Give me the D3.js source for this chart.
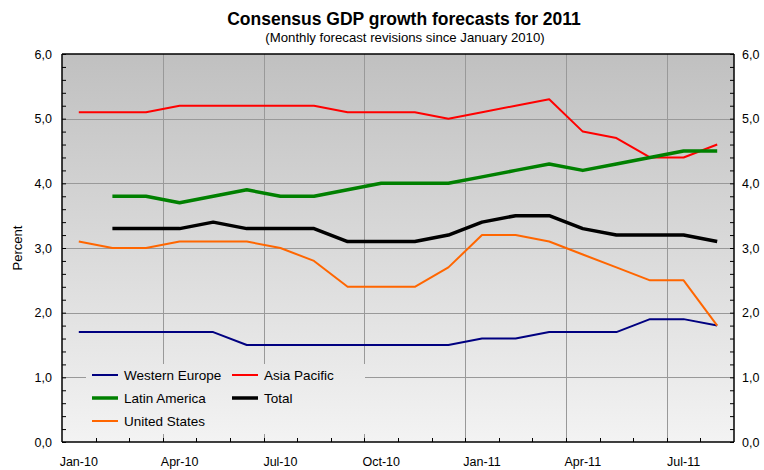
<!DOCTYPE html>
<html>
<head>
<meta charset="utf-8">
<script src="https://cdn.jsdelivr.net/npm/d3@7"></script>
<style>
  html, body { margin: 0; padding: 0; background: #ffffff; }
  svg { display: block; font-family: "Liberation Sans", Arial, sans-serif; }
</style>
</head>
<body>
<svg id="chart" width="764" height="470"></svg>
<script>
// Monthly survey dates (Jan-2010 .. Aug-2011)
const months = ["Jan-10","Feb-10","Mar-10","Apr-10","May-10","Jun-10","Jul-10","Aug-10","Sep-10","Oct-10",
                "Nov-10","Dec-10","Jan-11","Feb-11","Mar-11","Apr-11","May-11","Jun-11","Jul-11","Aug-11"];
const xTickLabels = ["Jan-10","Apr-10","Jul-10","Oct-10","Jan-11","Apr-11","Jul-11"];
const yTicks = [0,1,2,3,4,5,6];

// 2011 GDP growth consensus, percent
const westernEurope = [1.7,1.7,1.7,1.7,1.7,1.5,1.5,1.5,1.5,1.5,1.5,1.5,1.6,1.6,1.7,1.7,1.7,1.9,1.9,1.8];
const asiaPacific   = [5.1,5.1,5.1,5.2,5.2,5.2,5.2,5.2,5.1,5.1,5.1,5.0,5.1,5.2,5.3,4.8,4.7,4.4,4.4,4.6];
const latinAmerica  = [null,3.8,3.8,3.7,3.8,3.9,3.8,3.8,3.9,4.0,4.0,4.0,4.1,4.2,4.3,4.2,4.3,4.4,4.5,4.5];
const total         = [null,3.3,3.3,3.3,3.4,3.3,3.3,3.3,3.1,3.1,3.1,3.2,3.4,3.5,3.5,3.3,3.2,3.2,3.2,3.1];
const unitedStates  = [3.1,3.0,3.0,3.1,3.1,3.1,3.0,2.8,2.4,2.4,2.4,2.7,3.2,3.2,3.1,2.9,2.7,2.5,2.5,1.8];

const series = [
  { name: "Western Europe", values: westernEurope, color: "#000080", width: 2 },
  { name: "Asia Pacific",   values: asiaPacific,   color: "#ff0000", width: 2 },
  { name: "Latin America",  values: latinAmerica,  color: "#008000", width: 3.5 },
  { name: "Total",          values: total,         color: "#000000", width: 3.5 },
  { name: "United States",  values: unitedStates,  color: "#ff6600", width: 2 }
];

const svg = d3.select("#chart");
const pLeft = 62, pRight = 734, pTop = 54, pBottom = 442;

const x = d3.scaleBand().domain(months).range([pLeft, pRight]).padding(0);
const y = d3.scaleLinear().domain([0, 6]).range([pBottom, pTop]);
const bw = x.bandwidth();
const cx = m => x(m) + bw / 2;
const fmt = d => d3.format(".1f")(d).replace(".", ",");

// plot background gradient
const defs = svg.append("defs");
const grad = defs.append("linearGradient").attr("id", "bg")
  .attr("gradientUnits", "userSpaceOnUse")
  .attr("x1", 0).attr("y1", pTop).attr("x2", 0).attr("y2", pBottom);
grad.append("stop").attr("offset", "0%").attr("stop-color", "#c0c0c0");
grad.append("stop").attr("offset", "100%").attr("stop-color", "#f3f3f3");

svg.append("rect").attr("x", pLeft).attr("y", pTop)
  .attr("width", pRight - pLeft).attr("height", pBottom - pTop).attr("fill", "url(#bg)");

// gridlines
const grid = svg.append("g").attr("stroke", "#999999").attr("stroke-width", 1);
grid.selectAll("line.h").data(yTicks.slice(1, -1)).join("line").attr("class", "h")
  .attr("x1", pLeft).attr("x2", pRight)
  .attr("y1", d => Math.round(y(d)) + 0.5).attr("y2", d => Math.round(y(d)) + 0.5);
grid.selectAll("line.v").data(xTickLabels.slice(1)).join("line").attr("class", "v")
  .attr("x1", d => Math.round(x(d)) + 0.5).attr("x2", d => Math.round(x(d)) + 0.5)
  .attr("y1", pTop).attr("y2", pBottom);

// value axes: minor ticks every 0.2, pointing into the plot
const yLeft = d3.axisLeft(y).tickValues(d3.range(0, 6.01, 0.2)).tickSize(-4).tickFormat("");
const yRight = d3.axisRight(y).tickValues(d3.range(0, 6.01, 0.2)).tickSize(-4).tickFormat("");
function styleAxis(g) {
  g.select(".domain").remove();
  g.selectAll(".tick line").attr("stroke", "#000");
}
svg.append("g").attr("transform", `translate(${pLeft},0)`).call(yLeft).call(styleAxis);
svg.append("g").attr("transform", `translate(${pRight},0)`).call(yRight).call(styleAxis);

// month ticks on the category axis (band boundaries)
svg.append("g").selectAll("line").data(months.slice(1)).join("line")
  .attr("x1", d => Math.round(x(d)) + 0.5).attr("x2", d => Math.round(x(d)) + 0.5)
  .attr("y1", pBottom).attr("y2", pBottom - 4).attr("stroke", "#000");

// frame lines
const frame = svg.append("g").attr("stroke", "#000").attr("stroke-width", 1.5);
frame.append("line").attr("x1", pLeft).attr("x2", pRight).attr("y1", pTop).attr("y2", pTop);
frame.append("line").attr("x1", pLeft).attr("x2", pRight).attr("y1", pBottom).attr("y2", pBottom);
frame.append("line").attr("x1", pLeft).attr("x2", pLeft).attr("y1", pTop).attr("y2", pBottom);
frame.append("line").attr("x1", pRight).attr("x2", pRight).attr("y1", pTop).attr("y2", pBottom);

// tick labels
svg.append("g").selectAll("text").data(yTicks).join("text")
  .attr("x", 52).attr("y", d => y(d) + 4.5).attr("text-anchor", "end")
  .attr("font-size", 12.5).attr("fill", "#000").text(fmt);
svg.append("g").selectAll("text").data(yTicks).join("text")
  .attr("x", 742).attr("y", d => y(d) + 4.5).attr("text-anchor", "start")
  .attr("font-size", 12.5).attr("fill", "#000").text(fmt);
svg.append("g").selectAll("text").data(xTickLabels).join("text")
  .attr("x", d => cx(d)).attr("y", 466).attr("text-anchor", "middle")
  .attr("font-size", 12.5).attr("fill", "#000").text(d => d);

// series lines
const line = d3.line()
  .defined(d => d.v != null)
  .x(d => cx(d.m))
  .y(d => y(d.v));
svg.append("g").selectAll("path").data(series).join("path")
  .attr("d", s => line(s.values.map((v, i) => ({ m: months[i], v }))))
  .attr("fill", "none").attr("stroke", s => s.color).attr("stroke-width", s => s.width)
  .attr("stroke-linejoin", "round");

// legend box (opaque, same fill as the plot background)
const lgX = 86, lgY = 364, lgW = 279, lgH = 70;
svg.append("rect").attr("x", lgX).attr("y", lgY).attr("width", lgW).attr("height", lgH)
  .attr("fill", "url(#bg)");
const legendPos = [[92, 375], [232, 375], [92, 398], [232, 398], [92, 421]];
const lg = svg.append("g").selectAll("g").data(series).join("g")
  .attr("transform", (s, i) => `translate(${legendPos[i][0]},${legendPos[i][1]})`);
lg.append("line").attr("x1", 0).attr("x2", 26).attr("y1", 0).attr("y2", 0)
  .attr("stroke", s => s.color).attr("stroke-width", s => s.width);
lg.append("text").attr("x", 32).attr("y", 5).attr("font-size", 13.5).attr("fill", "#000")
  .text(s => s.name);

// titles
svg.append("text").attr("x", 404).attr("y", 25).attr("text-anchor", "middle")
  .attr("font-size", 17.5).attr("font-weight", "bold").text("Consensus GDP growth forecasts for 2011");
svg.append("text").attr("x", 405).attr("y", 42).attr("text-anchor", "middle")
  .attr("font-size", 13.2).text("(Monthly forecast revisions since January 2010)");
svg.append("text").attr("transform", "translate(22,248) rotate(-90)").attr("text-anchor", "middle")
  .attr("font-size", 13).text("Percent");
</script>
</body>
</html>
